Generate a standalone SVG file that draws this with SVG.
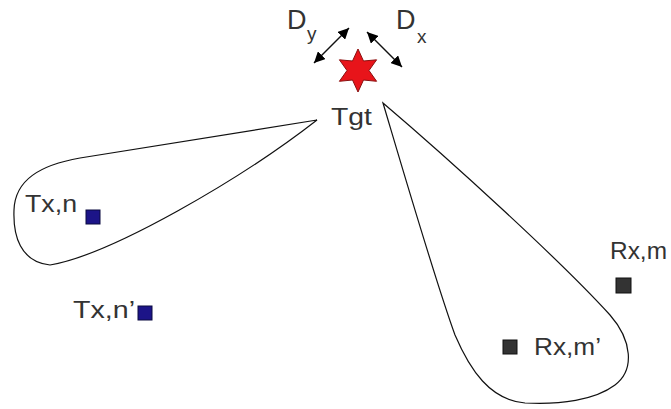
<svg xmlns="http://www.w3.org/2000/svg" width="671" height="409" viewBox="0 0 671 409">
<style>
.lbl{font-family:"Liberation Sans",Arial,sans-serif;fill:#333;font-size:23px}
.big{font-family:"Liberation Sans",Arial,sans-serif;fill:#333;font-size:27px}
.sub{font-family:"Liberation Sans",Arial,sans-serif;fill:#333;font-size:19px}
.lobe{fill:none;stroke:#111;stroke-width:1.2}
.tx{fill:#1c1488;stroke:#0a0a40;stroke-width:1}
.rx{fill:#333;stroke:#111;stroke-width:1}
.arr{stroke:#111;stroke-width:1.5;fill:none}
</style>
<defs>
<marker id="ah" viewBox="0 0 10 10" refX="10" refY="5" markerWidth="11" markerHeight="11" markerUnits="userSpaceOnUse" orient="auto-start-reverse">
<path d="M0,0 L10,5 L0,10 z" fill="#000"/>
</marker>
</defs>
<rect width="671" height="409" fill="#fff"/>
<g id="lobe-tx">
<path class="lobe" d="M317,120 L80,158 C40,165 15,180 14,210 C13,235 20,262 50,265 C110,255 240,180 317,120 Z"/>
</g>
<g id="lobe-rx">
<path class="lobe" d="M383,103 C450,160 560,260 610,315 C632,340 635,370 615,385 C595,400 560,405 525,403 C490,400 470,370 455,335 C435,280 400,160 383,103 Z"/>
</g>
<g id="tgt">
<polygon points="358,49 363.5,61 376.6,59.8 369,70.5 376.6,81.3 363.5,80 358,92 352.5,80 339.4,81.3 347,70.5 339.4,59.8 352.5,61" fill="#e8141a" stroke="#8a1010" stroke-width="1"/>
<text class="lbl" x="331" y="125" textLength="41" lengthAdjust="spacingAndGlyphs">Tgt</text>
</g>
<g id="dy-label">
<text class="big" x="287" y="29">D</text>
<text class="sub" x="307" y="40">y</text>
</g>
<g id="dx-label">
<text class="big" x="396" y="29">D</text>
<text class="sub" x="417" y="43">x</text>
</g>
<g id="tx-n">
<text class="lbl" x="25" y="212" textLength="52" lengthAdjust="spacingAndGlyphs">Tx,n</text>
<rect class="tx" x="86" y="210" width="14" height="14"/>
</g>
<g id="tx-n2">
<text class="lbl" x="73" y="318" textLength="62" lengthAdjust="spacingAndGlyphs">Tx,n’</text>
<rect class="tx" x="138" y="306" width="14" height="14"/>
</g>
<g id="rx-m">
<text class="lbl" x="610" y="259" textLength="57" lengthAdjust="spacingAndGlyphs">Rx,m</text>
<rect class="rx" x="616" y="278" width="15" height="15"/>
</g>
<g id="rx-m2">
<rect class="rx" x="503" y="340" width="14" height="14"/>
<text class="lbl" x="534" y="355" textLength="67" lengthAdjust="spacingAndGlyphs">Rx,m’</text>
</g>
<g id="connectors">
<line class="arr" x1="314" y1="63" x2="349" y2="28" marker-start="url(#ah)" marker-end="url(#ah)"/>
<line class="arr" x1="367" y1="32" x2="402" y2="67" marker-start="url(#ah)" marker-end="url(#ah)"/>
</g>
</svg>
